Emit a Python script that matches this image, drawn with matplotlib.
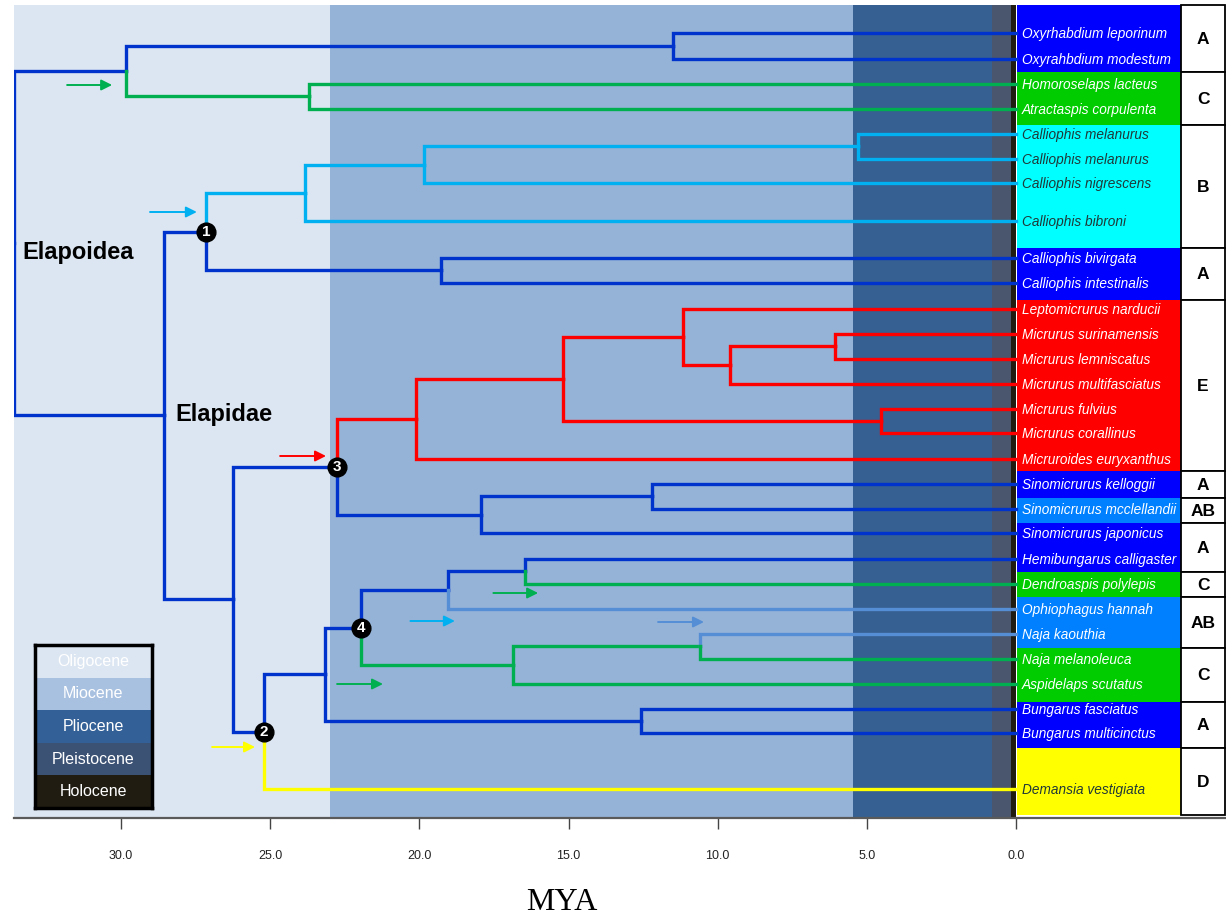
import matplotlib
matplotlib.use('Agg')
import matplotlib.pyplot as plt
from matplotlib.patches import Rectangle

# ---------------- data ----------------
tip_names = ['Oxyrhabdium leporinum', 'Oxyrahbdium modestum', 'Homoroselaps lacteus',
             'Atractaspis corpulenta', 'Calliophis melanurus', 'Calliophis melanurus',
             'Calliophis nigrescens', 'Calliophis bibroni', 'Calliophis bivirgata',
             'Calliophis intestinalis', 'Leptomicrurus narducii', 'Micrurus surinamensis',
             'Micrurus lemniscatus', 'Micrurus multifasciatus', 'Micrurus fulvius',
             'Micrurus corallinus', 'Micruroides euryxanthus', 'Sinomicrurus kelloggii',
             'Sinomicrurus mcclellandii', 'Sinomicrurus japonicus', 'Hemibungarus calligaster',
             'Dendroaspis polylepis', 'Ophiophagus hannah', 'Naja kaouthia',
             'Naja melanoleuca', 'Aspidelaps scutatus', 'Bungarus fasciatus',
             'Bungarus multicinctus', 'Demansia vestigiata']
tip_y = [33, 59, 84, 109, 134, 159, 183, 221, 258, 283, 309, 334, 359, 384, 409, 433,
         459, 484, 509, 533, 559, 584, 609, 634, 659, 684, 709, 733, 789]
BLUE, GREEN, CYAN, RED, LBLUE, YEL = '#0033cc', '#00b050', '#00b0f0', '#ff0000', '#558ed5', '#ffff00'
tip_color = [BLUE, BLUE, GREEN, GREEN, CYAN, CYAN, CYAN, CYAN, BLUE, BLUE,
             RED, RED, RED, RED, RED, RED, RED, BLUE, BLUE, BLUE,
             BLUE, GREEN, LBLUE, LBLUE, GREEN, GREEN, BLUE, BLUE, YEL]

# internal nodes: id, age (MYA), children (int = tip index, str = node id), branch colour
node_ids = ['root', 'oxyatr', 'oxy', 'atr', 'elap', 'n1', 'callB', 'callM', 'callMel', 'callBI',
            'low', 'n3', 'red1', 'red2', 'red3', 'red4', 'red5', 'red6', 'sino1', 'sino2',
            'n2', 'n25', 'n4', 'hemoph', 'hemden', 'naja1', 'naja2', 'bung']
node_age = [33.59, 29.84, 11.50, 23.70, 28.56, 27.15, 23.84, 19.85, 5.30, 19.28,
            26.25, 22.76, 20.11, 15.19, 11.16, 9.59, 6.07, 4.53, 17.93, 12.20,
            25.21, 23.16, 21.96, 19.04, 16.46, 16.86, 10.59, 12.57]
node_kids = [['oxyatr', 'elap'], ['oxy', 'atr'], [0, 1], [2, 3], ['n1', 'low'],
             ['callB', 'callBI'], ['callM', 7], ['callMel', 6], [4, 5], [8, 9],
             ['n3', 'n2'], ['red1', 'sino1'], ['red2', 16], ['red3', 'red6'], [10, 'red4'],
             ['red5', 13], [11, 12], [14, 15], ['sino2', 19], [17, 18],
             ['n25', 28], ['n4', 'bung'], ['hemoph', 'naja1'], ['hemden', 22], [20, 21],
             ['naja2', 25], [23, 24], [26, 27]]
node_color = [BLUE, BLUE, BLUE, GREEN, BLUE, BLUE, CYAN, CYAN, CYAN, BLUE,
              BLUE, BLUE, RED, RED, RED, RED, RED, RED, BLUE, BLUE,
              BLUE, BLUE, BLUE, BLUE, BLUE, GREEN, GREEN, BLUE]
numbered_nodes = ['n1', 'n2', 'n3', 'n4']
numbered_labels = ['1', '2', '3', '4']

# epochs (MYA)
epoch_names = ['Oligocene', 'Miocene', 'Pliocene', 'Pleistocene', 'Holocene']
epoch_start = [33.59, 23.0, 5.47, 0.81, 0.17]
epoch_end = [23.0, 5.47, 0.81, 0.17, 0.0]
epoch_colors = ['#dce6f2', '#95b3d7', '#366092', '#4a566e', '#201c12']
legend_colors = ['#dce6f2', '#a9c1e0', '#336096', '#3c5275', '#201c12']

# areas
region_letters = ['A', 'C', 'B', 'A', 'E', 'A', 'AB', 'A', 'C', 'AB', 'C', 'A', 'D']
region_top = [5, 72, 125, 248, 300, 471, 498, 523, 572, 597, 648, 702, 748]
region_bottom = [72, 125, 248, 300, 471, 498, 523, 572, 597, 648, 702, 748, 815]
region_fill = ['#0000ff', '#00cc00', '#00ffff', '#0000ff', '#ff0000', '#0000ff', '#0080ff',
               '#0000ff', '#00cc00', '#0080ff', '#00cc00', '#0000ff', '#ffff00']

# dispersal arrows (MYA start, MYA end, y)
arrow_x0 = [31.81, 29.03, 24.67, 26.95, 17.52, 20.30, 12.00, 22.76]
arrow_x1 = [30.30, 27.46, 23.13, 25.51, 16.02, 18.81, 10.46, 21.22]
arrow_y = [85, 212, 456, 747, 593, 621, 622, 684]
arrow_color = [GREEN, CYAN, RED, YEL, GREEN, CYAN, LBLUE, GREEN]

xticks = [30, 25, 20, 15, 10, 5, 0]
xtick_labels = ['30.0', '25.0', '20.0', '15.0', '10.0', '5.0', '0.0']

# ---------------- figure ----------------
W, H = 1226, 919
plt.rcParams['font.family'] = ['Liberation Sans', 'DejaVu Sans']
fig = plt.figure(figsize=(W / 100, H / 100), dpi=100)
ax = fig.add_axes([14 / W, 1 - 818 / H, (W - 14) / W, (818 - 5) / H])
ax.set_xlim(33.59, -7.04)
ax.set_ylim(818, 5)

for s, e, c in zip(epoch_start, epoch_end, epoch_colors):
    ax.axvspan(s, e, color=c, lw=0, zorder=0)

# tree
age = dict(zip(node_ids, node_age))
kids = dict(zip(node_ids, node_kids))
ncol = dict(zip(node_ids, node_color))
ypos = {}


def get_y(k):
    if isinstance(k, int):
        return tip_y[k]
    if k not in ypos:
        ys = [get_y(c) for c in kids[k]]
        ypos[k] = (min(ys) + max(ys)) / 2
    return ypos[k]


for nid in node_ids:
    ny = get_y(nid)
    na = age[nid]
    for c in kids[nid]:
        cy = get_y(c)
        ca = 0.0 if isinstance(c, int) else age[c]
        col = tip_color[c] if isinstance(c, int) else ncol[c]
        ax.plot([na, na, ca], [ny, cy, cy], color=col, lw=2.4,
                solid_capstyle='projecting', solid_joinstyle='miter', zorder=3)

for nid, lab in zip(numbered_nodes, numbered_labels):
    ax.plot(age[nid], get_y(nid), 'o', ms=13.5, color='black', zorder=5)
    ax.text(age[nid], get_y(nid) + 0.5, lab, color='white', ha='center', va='center',
            fontsize=11, fontweight='bold', zorder=6)

for x0, x1, y, c in zip(arrow_x0, arrow_x1, arrow_y, arrow_color):
    ax.annotate('', xy=(x1, y), xytext=(x0, y),
                arrowprops=dict(arrowstyle='-|>', color=c, lw=1.4, mutation_scale=16,
                                shrinkA=0, shrinkB=0), zorder=4)

ax.text(33.32, 253, 'Elapoidea', fontsize=17, fontweight='bold', ha='left', va='center', zorder=6)
ax.text(28.19, 415, 'Elapidae', fontsize=17, fontweight='bold', ha='left', va='center', zorder=6)

# area boxes
for t, b, f, l in zip(region_top, region_bottom, region_fill, region_letters):
    ax.add_patch(Rectangle((-0.03, t), -5.50, b - t, facecolor=f, lw=0, zorder=2))
    ax.add_patch(Rectangle((-5.53, t), -1.47, b - t, facecolor='white', edgecolor='black',
                           lw=1.3, zorder=2, clip_on=False))
    ax.text(-6.27, (t + b) / 2 + 1, l, ha='center', va='center', fontsize=12.5,
            fontweight='bold', zorder=3)

for name, y, c in zip(tip_names, tip_y, tip_color):
    tc = '#203838' if c in (CYAN, YEL) else 'white'
    ax.text(-0.2, y + 1, name, style='italic', fontsize=9.8, color=tc, ha='left',
            va='center', zorder=6)

# axes styling
for s in ['top', 'left', 'right']:
    ax.spines[s].set_visible(False)
ax.spines['bottom'].set_color('#5a5a5a')
ax.spines['bottom'].set_linewidth(1.6)
ax.set_yticks([])
ax.set_xticks(xticks)
ax.set_xticklabels(xtick_labels)
ax.tick_params(axis='x', length=8, width=1, color='#444444', pad=15, labelsize=9,
               labelcolor='#222222')

fig.text(562 / W, 1 - 903 / H, 'MYA', family='Liberation Serif', fontsize=23,
         ha='center', va='center')

# epoch legend
lax = fig.add_axes([35 / W, 1 - 808 / H, 117 / W, 163 / H])
lax.set_xlim(0, 1)
lax.set_ylim(len(epoch_names), 0)
for i, (n, c) in enumerate(zip(epoch_names, legend_colors)):
    lax.add_patch(Rectangle((0, i), 1, 1, facecolor=c, lw=0))
    lax.text(0.5, i + 0.5, n, color='white', ha='center', va='center', fontsize=11.5)
lax.set_xticks([])
lax.set_yticks([])
for s in lax.spines.values():
    s.set_linewidth(2.5)
    s.set_color('black')

fig.savefig('out.png', dpi=100)
